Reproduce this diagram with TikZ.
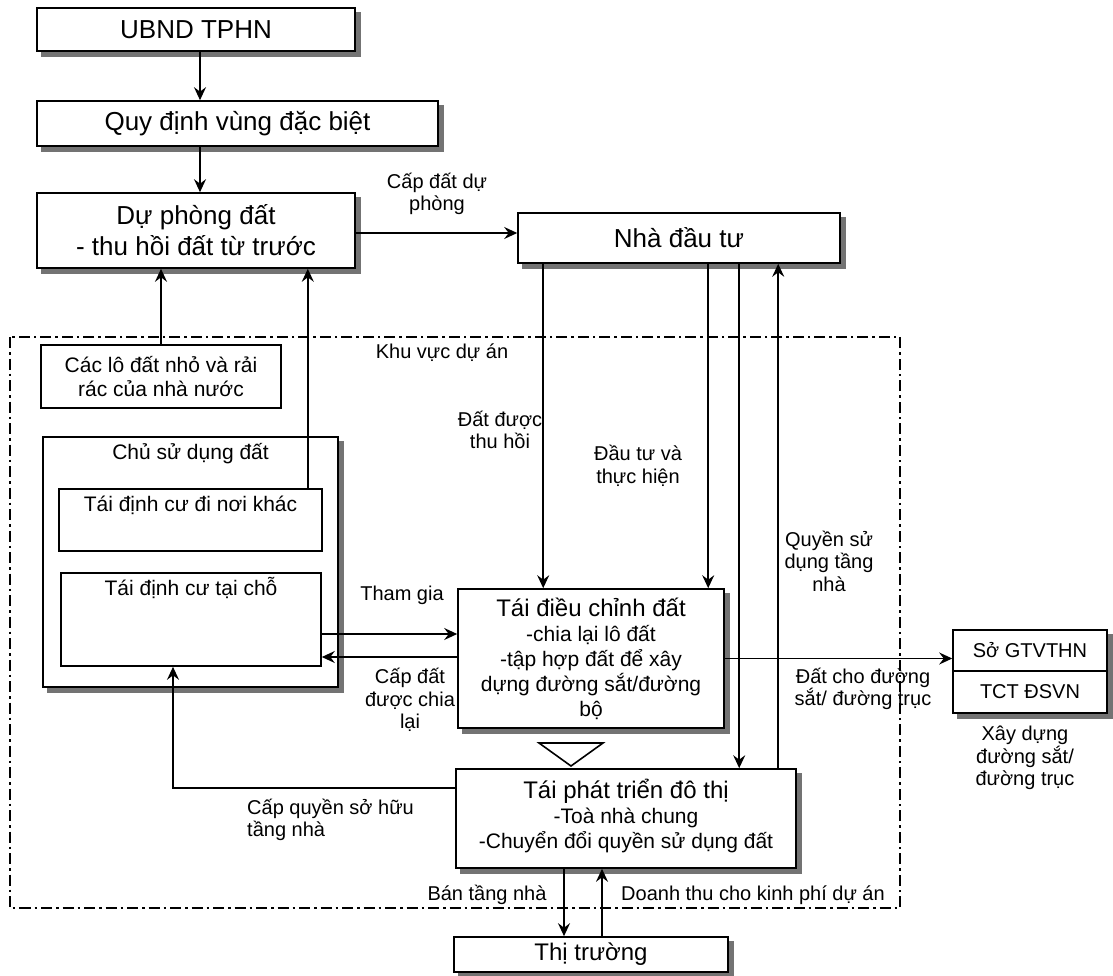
\documentclass[tikz,border=0pt]{standalone}
\usepackage{fontspec}
\setmainfont{Liberation Sans}
\usetikzlibrary{arrows.meta,backgrounds}
\newcommand\myfs[2]{\fontsize{#1}{#2}\selectfont}
\newcommand\shadowof[1]{\fill[shadowgray] ([shift={(5pt,-5pt)}]#1.south west) rectangle ([shift={(5pt,-5pt)}]#1.north east);}
\definecolor{shadowgray}{gray}{0.45}
\begin{document}
\begin{tikzpicture}[x=1pt,y=-1pt,
 box/.style={draw, line width=1.6pt, fill=white, inner sep=0pt, align=center},
 sbox/.style={box},
 arr/.style={line width=1.6pt, -{Stealth[length=13pt,width=12pt,inset=4.5pt]}},
 conn/.style={line width=1.6pt},
 lbl/.style={font=\myfs{20}{22.5}, align=center, inner sep=0pt},
 inlbl/.style={font=\myfs{21}{24}, inner sep=0pt, anchor=base, yshift=-23.5pt},
 zone/.style={line width=1.8pt, dash pattern=on 11pt off 4pt on 2.5pt off 4pt}]
\useasboundingbox (0,0) rectangle (1113,976);
\draw[zone] (10,337) rectangle (900,908);
% boxes
\node[sbox, minimum width=318pt, minimum height=43pt, font=\myfs{26}{31}] (ubnd) at (196,29.5) {UBND TPHN};
\node[sbox, minimum width=401pt, minimum height=45pt, font=\myfs{26}{31}] (quy) at (237.5,123.5) {Quy định vùng đặc biệt};
\node[sbox, minimum width=318pt, minimum height=75pt, font=\myfs{26}{31}] (dp) at (196,230.5) {Dự phòng đất\\- thu hồi đất từ trước};
\node[sbox, minimum width=322pt, minimum height=50pt, font=\myfs{26}{31}] (ndt) at (679,238) {Nhà đầu tư};
\node[box, minimum width=240pt, minimum height=63pt, font=\myfs{21}{23.5}] (lo) at (161,376.5) {Các lô đất nhỏ và rải\\rác của nhà nước};
\node[sbox, minimum width=295pt, minimum height=250pt, label={[inlbl]north:Chủ sử dụng đất}] (csd) at (190.5,562) {};
\node[box, minimum width=263pt, minimum height=62pt, label={[inlbl]north:Tái định cư đi nơi khác}] (dnk) at (190.5,520) {};
\node[box, minimum width=260pt, minimum height=93pt, label={[inlbl]north:Tái định cư tại chỗ}] (tc) at (191,619.5) {};
\node[sbox, minimum width=266pt, minimum height=139pt, font=\myfs{21}{25}] (tdc) at (591,658.5) {{\myfs{24}{28}Tái điều chỉnh đất}\\-chia lại lô đất\\-tập hợp đất để xây\\dựng đường sắt/đường\\bộ};
\draw[conn] (539,743) -- (603,743) -- (571,766) -- cycle;
\node[sbox, minimum width=340pt, minimum height=99pt, font=\myfs{21}{25}] (tpt) at (626,818.5) {{\myfs{24}{28}Tái phát triển đô thị}\\-Toà nhà chung\\-Chuyển đổi quyền sử dụng đất\\[-15pt]};
\node[sbox, minimum width=274pt, minimum height=35pt, font=\myfs{24}{28}] (tt) at (591,954.5) {Thị trường};
\node[sbox, minimum width=154pt, minimum height=41pt, font=\myfs{20}{24}] (sgt) at (1030,650.5) {Sở GTVTHN};
\node[sbox, minimum width=154pt, minimum height=42pt, font=\myfs{20}{24}] (tct) at (1030,692) {TCT ĐSVN};
\begin{scope}[on background layer]
\shadowof{ubnd}\shadowof{quy}\shadowof{dp}\shadowof{ndt}\shadowof{csd}
\shadowof{tdc}\shadowof{tpt}\shadowof{tt}\shadowof{sgt}\shadowof{tct}
\end{scope}
% connectors
\draw[arr] ([xshift=4pt]ubnd.south) coordinate (u1) -- (u1 |- quy.north);
\draw[arr] (u1 |- quy.south) -- (u1 |- dp.north);
\draw[arr] ([yshift=-2.5pt]dp.east) coordinate (a1) -- (a1 -| ndt.west);
\draw[arr] (lo.north) -- (lo.north |- dp.south);
\draw[arr] ([xshift=-15pt]dnk.north east) coordinate (d1) -- (d1 |- dp.south);
\draw[arr] ([xshift=26pt]ndt.south west) coordinate (n1) -- (n1 |- tdc.north);
\draw[arr] ([xshift=191pt]ndt.south west) coordinate (n2) -- (n2 |- tdc.north);
\draw[arr] ([xshift=222pt]ndt.south west) coordinate (n3) -- (n3 |- tpt.north);
\coordinate (n4) at ([xshift=261pt]ndt.south west);
\draw[arr] (n4 |- tpt.north) -- (n4);
\draw[arr] ([yshift=-14.5pt]tc.east) coordinate (t1) -- (t1 -| tdc.west);
\draw[arr] ([yshift=1.5pt]tdc.west) coordinate (t2) -- (t2 -| tc.east);
\draw[arr] ([yshift=30.5pt]tpt.west) -| ([xshift=-18pt]tc.south);
\draw[arr] (tdc.east) -- (tdc.east -| sgt.west);
\draw[arr] ([xshift=-62pt]tpt.south) coordinate (b1) -- (b1 |- tt.north);
\draw[arr] ([xshift=11pt]tt.north) coordinate (b2) -- (b2 |- tpt.south);
% labels
\node[lbl] (l1) at (437,194) {Cấp đất dự\\phòng};
\node[lbl] (l2) at (442,353) {Khu vực dự án};
\node[lbl] (l3) at (500,430) {Đất được\\thu hồi};
\node[lbl] (l4) at (638,466) {Đầu tư và\\thực hiện};
\node[lbl] (l5) at (829,561) {Quyền sử\\dụng tầng\\nhà};
\node[lbl] (l6) at (402,595) {Tham gia};
\node[lbl] (l7) at (410,700) {Cấp đất\\được chia\\lại};
\node[lbl] (l8) at (863,689) {Đất cho đường\\sắt/ đường trục};
\node[lbl] (l9) at (1025,758) {Xây dựng\\đường sắt/\\đường trục};
\node[lbl, align=left, anchor=west] (l10) at (247,820) {Cấp quyền sở hữu\\tầng nhà};
\node[lbl] (l11) at (487,895) {Bán tầng nhà};
\node[lbl] (l12) at (753,895) {Doanh thu cho kinh phí dự án};
\end{tikzpicture}
\end{document}
